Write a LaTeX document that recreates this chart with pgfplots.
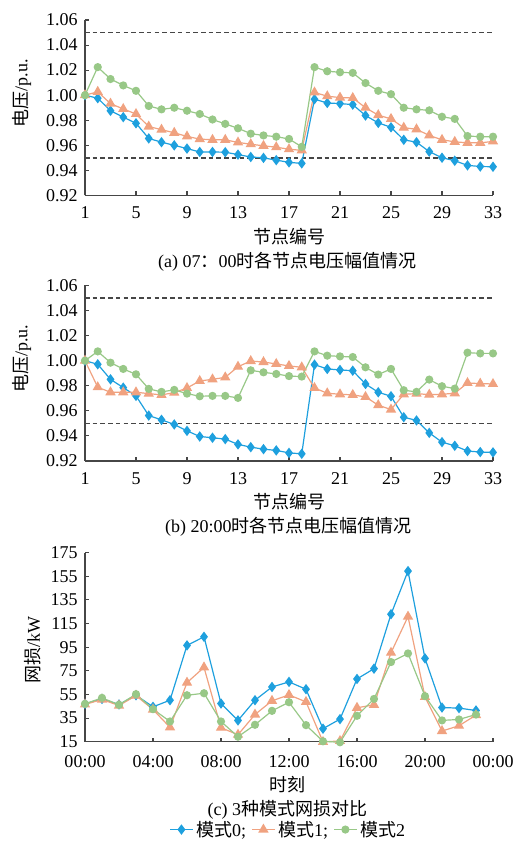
\documentclass[border=0pt]{standalone}
\usepackage{fontspec}
\setmainfont{Liberation Serif}
\newfontfamily\cjk{Noto Sans CJK SC}
\usepackage{pgfplots}
\usepackage{pgfplotstable}
\pgfplotsset{compat=1.18}
\definecolor{cA}{RGB}{30,160,222}
\definecolor{cB}{RGB}{240,162,128}
\definecolor{cC}{RGB}{152,200,135}
\definecolor{axc}{RGB}{70,70,70}
\newcommand{\fsz}{\fontsize{13.5pt}{16pt}\selectfont}

\pgfplotstableread{
n m0 m1 m2
1 1.000 1.000 1.000
2 0.9976 1.0027 1.0224
3 0.9876 0.9933 1.0129
4 0.9825 0.9890 1.0078
5 0.9776 0.9850 1.0035
6 0.9655 0.9750 0.9914
7 0.9625 0.9725 0.9887
8 0.9600 0.9700 0.9900
9 0.9574 0.9671 0.9876
10 0.9547 0.9650 0.9850
11 0.9547 0.9644 0.9806
12 0.9545 0.9644 0.9771
13 0.9526 0.9623 0.9736
14 0.9507 0.9609 0.9693
15 0.9500 0.9596 0.9679
16 0.9482 0.9585 0.9669
17 0.9464 0.9569 0.9651
18 0.9456 0.9560 0.9588
19 0.9968 1.0022 1.0224
20 0.9938 0.9992 1.0191
21 0.9933 0.9981 1.0183
22 0.9925 0.9978 1.0178
23 0.9838 0.9900 1.0097
24 0.9779 0.9841 1.0035
25 0.9744 0.9811 1.0008
26 0.9644 0.9741 0.9900
27 0.9625 0.9728 0.9887
28 0.9550 0.9679 0.9879
29 0.9501 0.9644 0.9828
30 0.9477 0.9628 0.9811
31 0.9440 0.9620 0.9674
32 0.9431 0.9620 0.9669
33 0.9429 0.9631 0.9669
}\tabA

\pgfplotstableread{
n m0 m1 m2
1 1.000 1.000 1.000
2 0.9971 0.9788 1.0074
3 0.9851 0.9748 0.9984
4 0.9785 0.9748 0.9934
5 0.9719 0.9748 0.9891
6 0.9562 0.9737 0.9775
7 0.9528 0.9727 0.9751
8 0.9491 0.9745 0.9767
9 0.9440 0.9782 0.9737
10 0.9395 0.9838 0.9716
11 0.9385 0.9851 0.9719
12 0.9374 0.9867 0.9719
13 0.9332 0.9952 0.9703
14 0.9310 0.9997 0.9923
15 0.9294 0.9989 0.9907
16 0.9284 0.9974 0.9894
17 0.9264 0.9958 0.9877
18 0.9257 0.9947 0.9873
19 0.9968 0.9782 1.0074
20 0.9934 0.9740 1.0040
21 0.9926 0.9732 1.0034
22 0.9920 0.9727 1.0029
23 0.9814 0.9711 0.9947
24 0.9748 0.9645 0.9889
25 0.9716 0.9610 0.9934
26 0.9549 0.9732 0.9764
27 0.9523 0.9737 0.9751
28 0.9424 0.9729 0.9849
29 0.9350 0.9732 0.9796
30 0.9321 0.9740 0.9777
31 0.9279 0.9822 1.0064
32 0.9271 0.9817 1.0058
33 0.9268 0.9814 1.0058
}\tabB

\pgfplotstableread{
h m0 m1 m2
0 47.0 46.5 47.0
1 51.2 50.7 52.1
2 46.5 45.6 46.2
3 54.3 54.0 55.2
4 44.5 42.2 42.5
5 50.1 27.1 32.1
6 96.5 65.0 54.3
7 103.8 77.9 56.0
8 47.3 26.8 32.1
9 33.0 20.9 19.2
10 50.1 38.0 29.3
11 61.3 49.6 41.1
12 65.6 54.6 48.4
13 59.4 48.7 29.0
14 26.0 14.8 15.3
15 34.1 15.6 14.5
16 68.1 43.7 36.9
17 76.8 46.2 51.2
18 122.9 90.3 82.4
19 159.4 120.9 89.7
20 85.5 52.9 53.5
21 43.9 24.0 33.0
22 43.4 28.5 33.8
23 41.4 37.5 38.0
}\tabC

\pgfplotsset{
  base/.style={
    scale only axis, width=306pt,
    axis lines*=left,
    axis line style={-, draw=axc, line width=0.9pt},
    tick align=inside,
    major tick length=3pt,
    tick style={draw=axc, line width=0.8pt},
    tick label style={font=\fsz},
    yticklabel style={xshift=-2pt},
    /pgf/number format/assume math mode=true,
    clip=false,
    anchor=north west,
  },
  s0/.style={cA, line width=0.9pt, mark=diamond*, mark size=3.2pt, mark options={solid, fill=cA, draw=cA}},
  s1/.style={cB, line width=0.9pt, mark=triangle*, mark size=3.6pt, mark options={solid, fill=cB, draw=cB}},
  s2/.style={cC, line width=0.9pt, mark=*, mark size=2.6pt, mark options={solid, fill=cC, draw=cC}},
  dl/.style={axc, line width=1pt, dash pattern=on 3.4pt off 2.4pt, forget plot},
  volt/.style={
    height=131.6pt,
    xmin=1, xmax=33, ymin=0.92, ymax=1.06,
    xtick={1,5,...,33},
    ytick={0.92,0.94,...,1.07},
    xticklabel style={yshift=-5pt},
    yticklabel style={/pgf/number format/.cd, fixed, fixed zerofill, precision=2},
  },
}

\begin{document}
\begin{tikzpicture}
\path[use as bounding box] (0,0) rectangle (386.25pt,-630.75pt);

% (a)
\begin{axis}[base, volt, at={(63.75pt,-15pt)}]
\addplot[dl] coordinates {(1,1.05) (33,1.05)};
\addplot[dl] coordinates {(1,0.95) (33,0.95)};
\addplot[s0] table[x=n,y=m0] {\tabA};
\addplot[s1] table[x=n,y=m1] {\tabA};
\addplot[s2] table[x=n,y=m2] {\tabA};
\end{axis}
\node[rotate=90, font=\fsz] at (16.3pt,-69.8pt) {{\cjk 电压}/p.u.};
\node[font=\fsz] at (216.75pt,-177.5pt) {\cjk 节点编号};
\node[font=\fsz] at (215.6pt,-196.3pt) {(a) 07{\cjk ：}00{\cjk 时各节点电压幅值情况}};

% (b)
\begin{axis}[base, volt, at={(63.75pt,-214.1pt)}]
\addplot[dl] coordinates {(1,1.05) (33,1.05)};
\addplot[dl] coordinates {(1,0.95) (33,0.95)};
\addplot[s0] table[x=n,y=m0] {\tabB};
\addplot[s1] table[x=n,y=m1] {\tabB};
\addplot[s2] table[x=n,y=m2] {\tabB};
\end{axis}
\node[rotate=90, font=\fsz] at (16.3pt,-269pt) {{\cjk 电压}/p.u.};
\node[font=\fsz] at (216.75pt,-376.3pt) {\cjk 节点编号};
\node[font=\fsz] at (216.2pt,-395pt) {(b) 20:00{\cjk 时各节点电压幅值情况}};

% (c)
\begin{axis}[base, at={(63.75pt,-414.5pt)}, height=141.75pt,
  xmin=0, xmax=24, ymin=15, ymax=175,
  xtick={0,4,...,24},
  xticklabels={00:00,04:00,08:00,12:00,16:00,20:00,00:00},
  xticklabel style={yshift=-7pt},
  ytick={15,35,...,175},
  legend columns=3,
  legend style={at={(axis description cs:0.499,-0.465)}, anchor=center, draw=none, fill=none,
    font=\fsz, /tikz/every even column/.append style={column sep=2pt},
    inner sep=0pt},
  legend cell align=left,
]
\addplot[s0] table[x=h,y=m0] {\tabC};
\addlegendentry{{\cjk 模式}0;}
\addplot[s1] table[x=h,y=m1] {\tabC};
\addlegendentry{{\cjk 模式}1;}
\addplot[s2] table[x=h,y=m2] {\tabC};
\addlegendentry{{\cjk 模式}2}
\end{axis}
\node[rotate=90, font=\fsz] at (24.75pt,-487.5pt) {{\cjk 网损}/kW};
\node[font=\fsz] at (215.6pt,-588.8pt) {\cjk 时刻};
\node[font=\fsz] at (215.6pt,-607.5pt) {(c) 3{\cjk 种模式网损对比}};
\end{tikzpicture}
\end{document}
